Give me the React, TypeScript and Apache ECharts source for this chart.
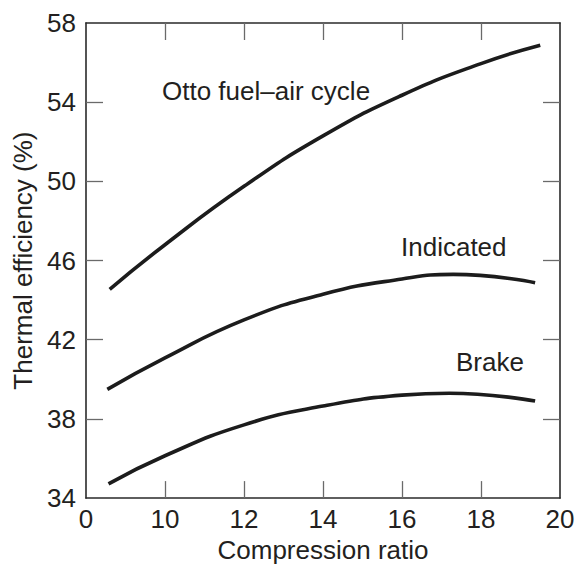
import React, { useEffect, useRef } from "react";
import * as echarts from "echarts";

const xLabelValues = [8, 10, 12, 14, 16, 18, 20];
const xTickValues = [10, 12, 14, 16, 18];
const yLabelValues = [34, 38, 42, 46, 50, 54, 58];
const yTickValues = [38, 42, 46, 50, 54];

const ottoX = [8.6, 10, 12, 14, 16, 18, 19.5];
const ottoY = [44.55, 46.8, 49.75, 52.3, 54.35, 55.95, 56.88];

const indicatedX = [8.54, 10, 12, 14, 16, 17.3, 19.37];
const indicatedY = [39.49, 41.08, 43.0, 44.3, 45.07, 45.3, 44.88];

const brakeX = [8.57, 10, 12, 14, 16, 17.2, 19.37];
const brakeY = [34.72, 36.14, 37.7, 38.65, 39.2, 39.3, 38.9];

const curveLabels = ["Otto fuel\u2013air cycle", "Indicated", "Brake"];

const FONT = "'Liberation Sans', Arial, Helvetica, sans-serif";
const TXT = "#231f20";
const FS = 26;

function pairs(xs: number[], ys: number[]) {
  return xs.map((x, i) => [x, ys[i]]);
}

export default function App() {
  const ref = useRef<HTMLDivElement>(null);
  useEffect(() => {
    if (!ref.current) return;
    const chart = echarts.init(ref.current, undefined, { renderer: "svg" });
    const tickStyle = { show: true, inside: true, length: 17, lineStyle: { color: "#6a6a6a", width: 1.3 } };
    const lineStyleAxis = { show: true, onZero: false, lineStyle: { color: "#2a2a2a", width: 1.6 } };
    const seriesBase = {
      type: "line" as const,
      smooth: 0.5,
      showSymbol: false,
      symbol: "none",
      lineStyle: { color: "#1c1c1c", width: 3.6 },
      silent: true,
    };
    chart.setOption({
      animation: false,
      backgroundColor: "#ffffff",
      grid: { left: 86, top: 23, right: 19, bottom: 67, containLabel: false },
      xAxis: [
        {
          type: "value",
          min: 8,
          max: 20,
          position: "bottom",
          axisLine: lineStyleAxis,
          axisTick: { ...tickStyle, customValues: xTickValues },
          axisLabel: {
            customValues: xLabelValues,
            margin: 8,
            fontSize: FS,
            fontFamily: FONT,
            color: TXT,
            formatter: (v: number) => (v === 8 ? "0" : String(v)),
          },
          splitLine: { show: false },
          name: "Compression ratio",
          nameLocation: "middle",
          nameGap: 38,
          nameTextStyle: { fontSize: FS, fontFamily: FONT, color: TXT },
        },
        {
          type: "value",
          min: 8,
          max: 20,
          position: "top",
          axisLine: lineStyleAxis,
          axisTick: { ...tickStyle, customValues: xTickValues },
          axisLabel: { show: false },
          splitLine: { show: false },
        },
      ],
      yAxis: [
        {
          type: "value",
          min: 34,
          max: 58,
          position: "left",
          axisLine: lineStyleAxis,
          axisTick: { ...tickStyle, customValues: yTickValues },
          axisLabel: {
            customValues: yLabelValues,
            margin: 10,
            fontSize: FS,
            fontFamily: FONT,
            color: TXT,
          },
          splitLine: { show: false },
          name: "Thermal efficiency (%)",
          nameLocation: "middle",
          nameRotate: 90,
          nameGap: 49,
          nameTextStyle: { fontSize: FS, fontFamily: FONT, color: TXT },
        },
        {
          type: "value",
          min: 34,
          max: 58,
          position: "right",
          axisLine: lineStyleAxis,
          axisTick: { ...tickStyle, customValues: yTickValues },
          axisLabel: { show: false },
          splitLine: { show: false },
        },
      ],
      series: [
        { ...seriesBase, name: curveLabels[0], data: pairs(ottoX, ottoY) },
        { ...seriesBase, name: curveLabels[1], data: pairs(indicatedX, indicatedY) },
        { ...seriesBase, name: curveLabels[2], data: pairs(brakeX, brakeY) },
      ],
      graphic: [
        { type: "text", x: 162, y: 91, style: { text: curveLabels[0], font: `${FS}px ${FONT}`, fill: TXT, verticalAlign: "middle", align: "left" } },
        { type: "text", x: 401, y: 247, style: { text: curveLabels[1], font: `${FS}px ${FONT}`, fill: TXT, verticalAlign: "middle", align: "left" } },
        { type: "text", x: 456, y: 362, style: { text: curveLabels[2], font: `${FS}px ${FONT}`, fill: TXT, verticalAlign: "middle", align: "left" } },
      ],
    });
    return () => chart.dispose();
  }, []);
  return <div ref={ref} style={{ width: 579, height: 568, position: "absolute", left: 0, top: 0 }} />;
}
